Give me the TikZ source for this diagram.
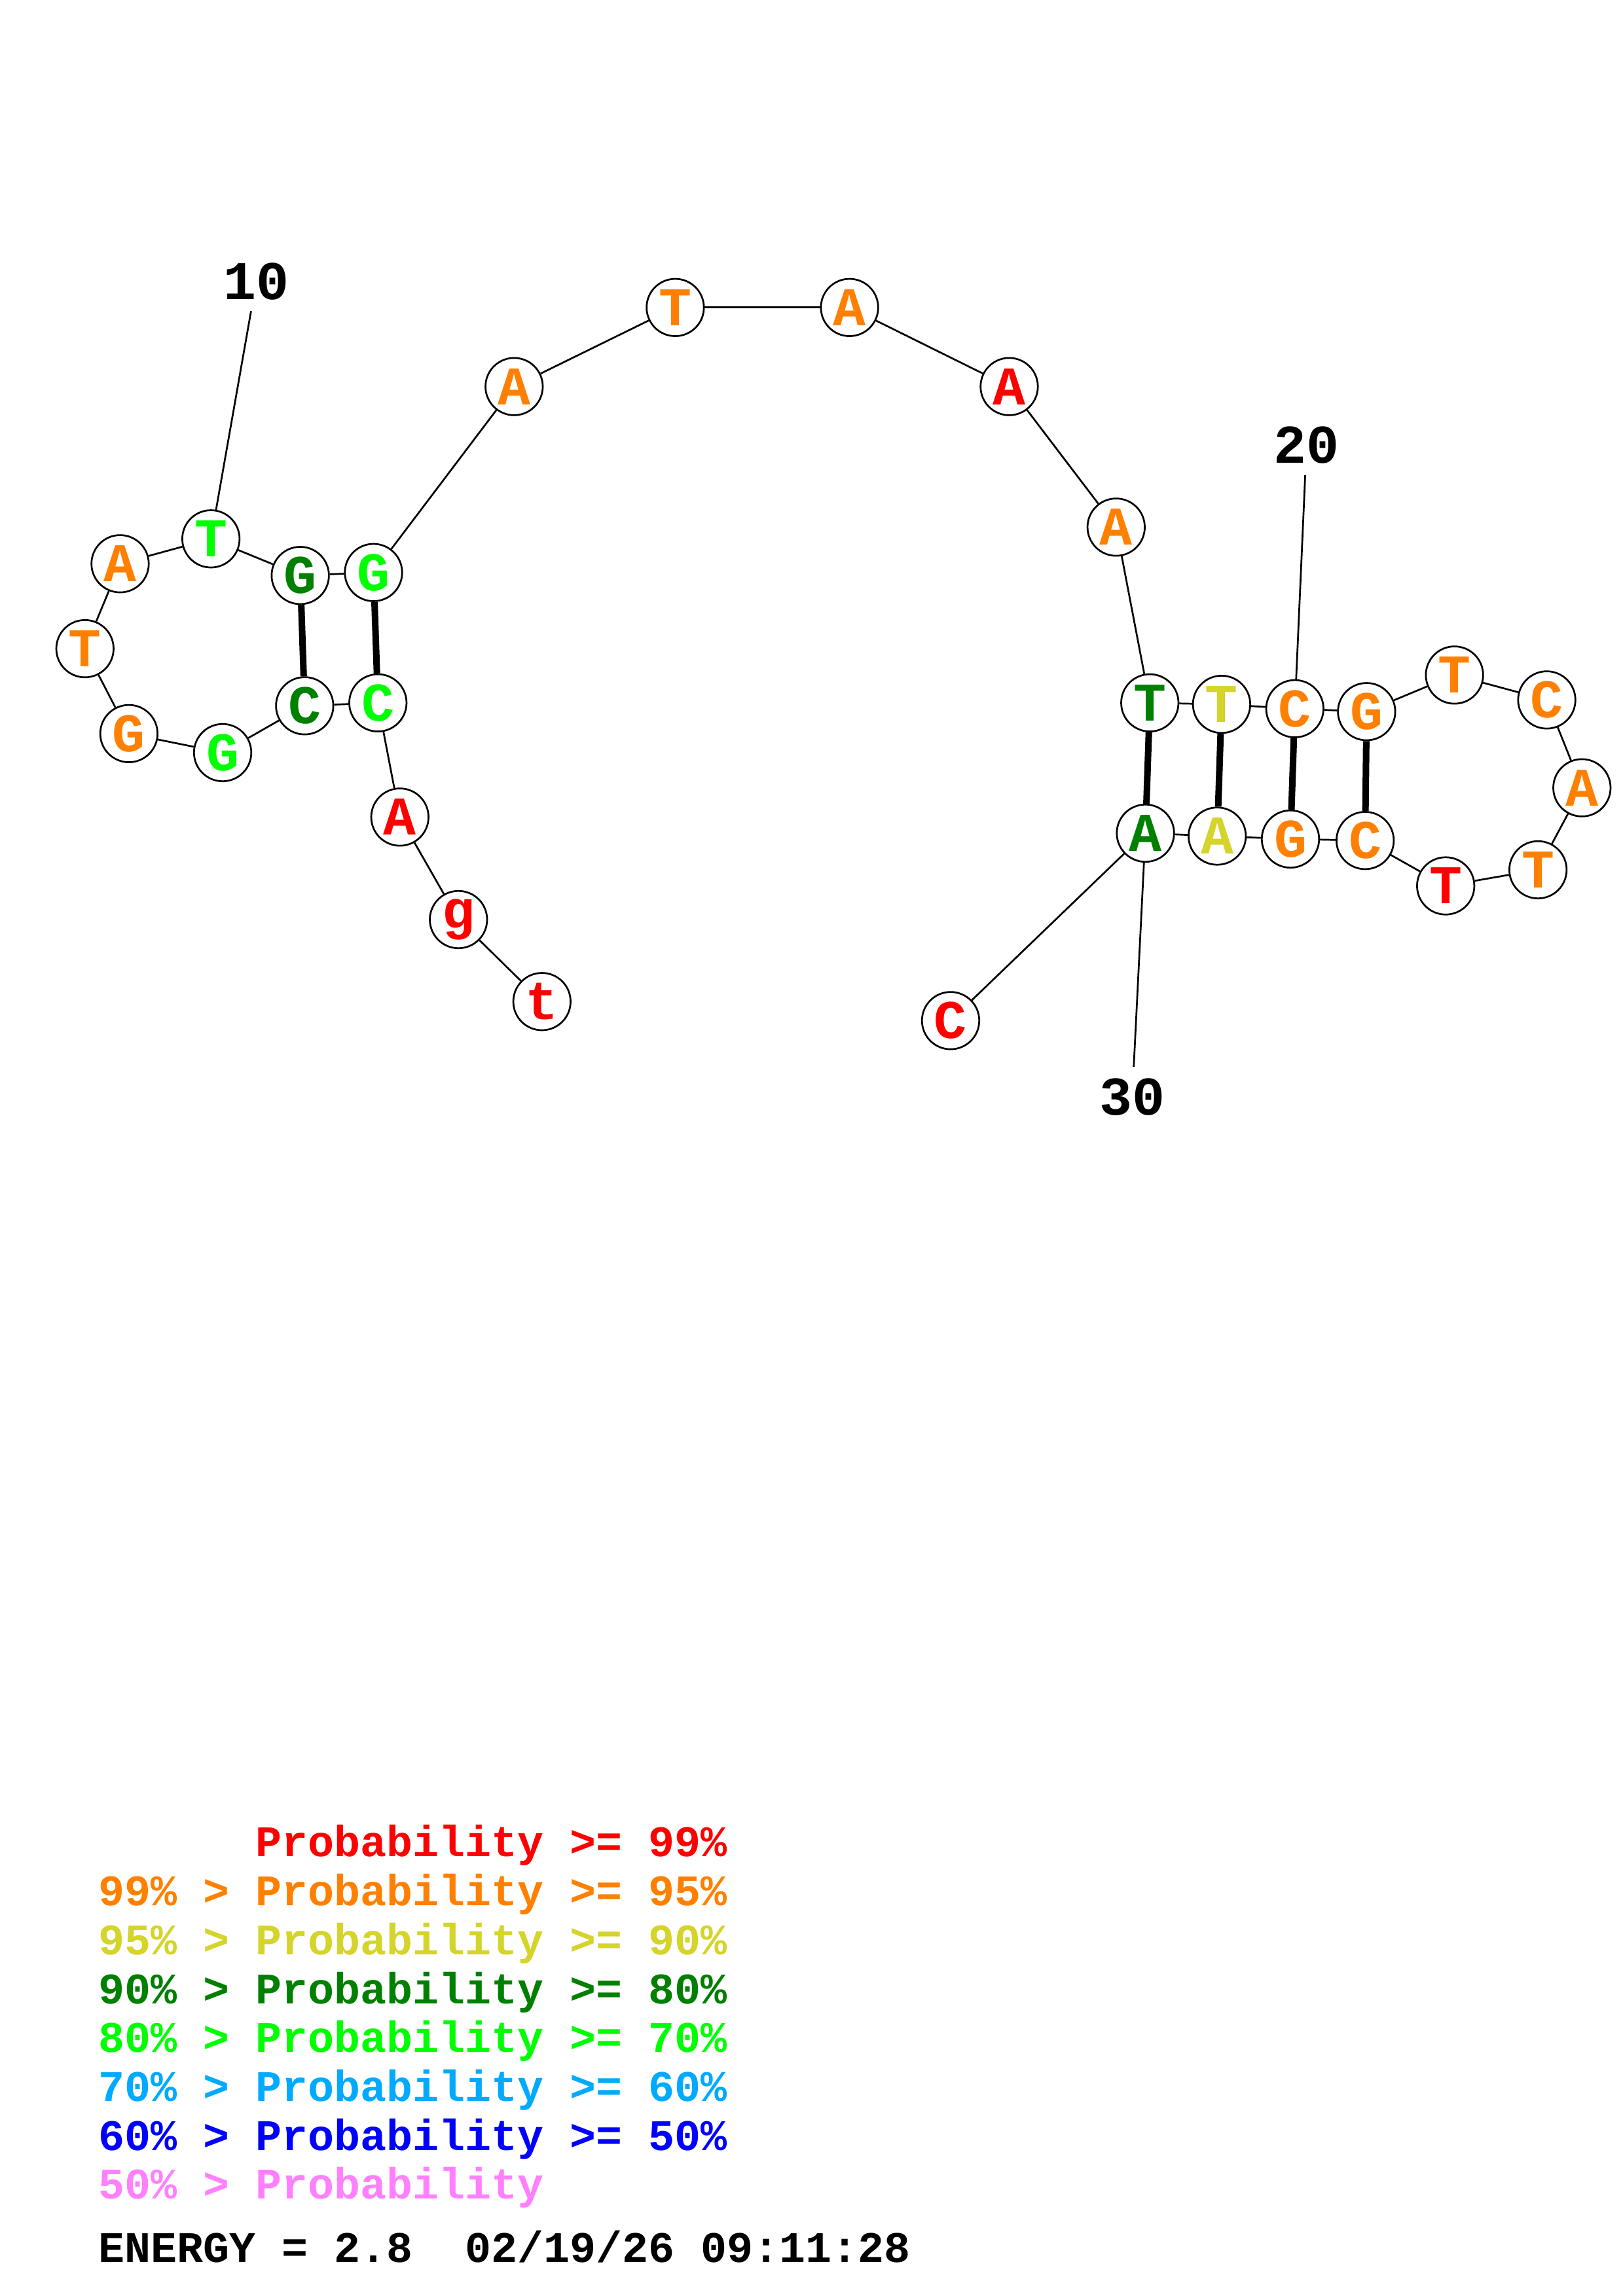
\documentclass[tikz,border=0pt]{standalone}
\usepackage{fontspec}
\setmonofont{Liberation Mono}
\usepackage{tikz}

\definecolor{pr99}{RGB}{255,0,0}
\definecolor{pr95}{RGB}{255,128,0}
\definecolor{pr90}{RGB}{212,212,42}
\definecolor{pr80}{RGB}{0,128,0}
\definecolor{pr70}{RGB}{0,255,0}
\definecolor{pr60}{RGB}{0,170,255}
\definecolor{pr50}{RGB}{0,0,255}
\definecolor{prlow}{RGB}{255,128,255}

\tikzset{
  base/.style={circle, draw, line width=0.65pt, fill=white, minimum size=21pt, inner sep=0pt,
    font=\ttfamily\bfseries\fontsize{20}{20}\selectfont},
  backbone/.style={line width=0.65pt},
  pairline/.style={line width=2.4pt},
  numlab/.style={inner sep=4pt, font=\ttfamily\bfseries\fontsize{20}{20}\selectfont},
  legend/.style={anchor=base west, inner sep=0pt, font=\ttfamily\bfseries\fontsize{16}{16}\selectfont}
}

\begin{document}
\begin{tikzpicture}[x=0.537pt, y=-0.537pt]
  \useasboundingbox (0,0) rectangle (1108,1568);
  % Bases
  \foreach \i/\x/\y/\b/\c in {
      1/370/684/t/pr99, 2/313/628/g/pr99, 3/273/558/A/pr99, 4/258/480/C/pr70,
      5/208/482/C/pr80, 6/152/514/G/pr70, 7/88/501/G/pr95, 8/58/443/T/pr95,
      9/82/385/A/pr95, 10/144/368/T/pr70, 11/205/393/G/pr80, 12/255/391/G/pr70,
      13/351/264/A/pr95, 14/461/210/T/pr95, 15/580/210/A/pr95, 16/689/264/A/pr99,
      17/762/360/A/pr95, 18/785/480/T/pr80, 19/834/481/T/pr90, 20/884/484/C/pr95,
      21/933/486/G/pr95, 22/993/461/T/pr95, 23/1056/478/C/pr95, 24/1080/538/A/pr95,
      25/1050/594/T/pr95, 26/987/605/T/pr99, 27/932/574/C/pr95, 28/881/573/G/pr95,
      29/831/571/A/pr90, 30/782/569/A/pr80, 31/649/697/C/pr99}
    \node[base, text=\c] (n\i) at (\x,\y) {\b};
  % Backbone
  \foreach \i [remember=\i as \p (initially 1)] in {2,...,31}
    \draw[backbone] (n\p) -- (n\i);
  % Base pairs
  \foreach \a/\b in {5/11, 4/12, 18/30, 19/29, 20/28, 21/27}
    \draw[pairline] (n\a) -- (n\b);
  % Position numbers
  \node[numlab] (lab10) at (175,192) {10};
  \node[numlab] (lab20) at (892,304) {20};
  \node[numlab] (lab30) at (773,749) {30};
  \draw[backbone] (lab10) -- (n10);
  \draw[backbone] (lab20) -- (n20);
  \draw[backbone] (lab30) -- (n30);
  % Legend
  \node[legend, text=pr99] (leg1) at (174,1268) {Probability >= 99\%};
  \node[legend, text=pr95] (leg2) at (67,1301.4) {99\% > Probability >= 95\%};
  \node[legend, text=pr90] (leg3) at (67,1334.8) {95\% > Probability >= 90\%};
  \node[legend, text=pr80] (leg4) at (67,1368.2) {90\% > Probability >= 80\%};
  \node[legend, text=pr70] (leg5) at (67,1401.6) {80\% > Probability >= 70\%};
  \node[legend, text=pr60] (leg6) at (67,1435) {70\% > Probability >= 60\%};
  \node[legend, text=pr50] (leg7) at (67,1468.4) {60\% > Probability >= 50\%};
  \node[legend, text=prlow] (leg8) at (67,1501.8) {50\% > Probability};
  \node[legend] (energy) at (67,1545) {ENERGY = 2.8\ \ 02/19/26 09:11:28};
\end{tikzpicture}
\end{document}
